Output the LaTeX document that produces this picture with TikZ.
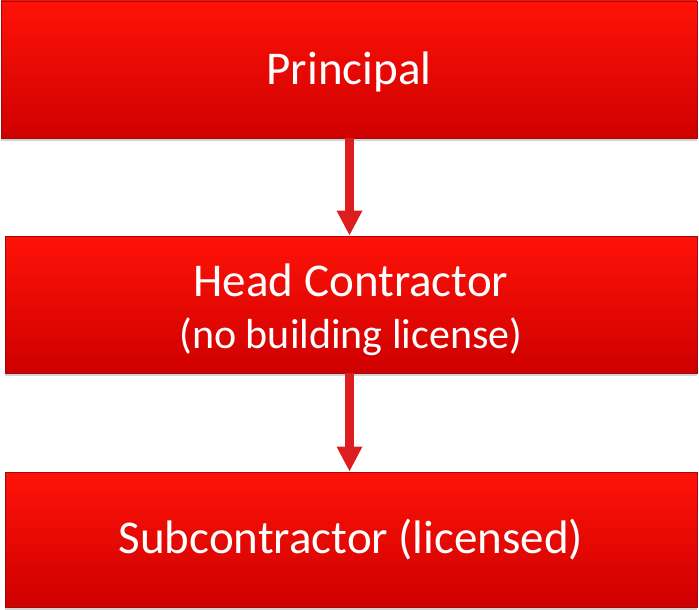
\documentclass[tikz,border=0pt]{standalone}
\usepackage{fontspec}
\setmainfont{Carlito}
\usetikzlibrary{arrows.meta,shadows}

\definecolor{boxtop}{RGB}{255,18,8}
\definecolor{boxbot}{RGB}{206,0,0}
\definecolor{boxedge}{RGB}{160,10,10}
\definecolor{arrowred}{RGB}{222,30,30}

\begin{document}
\begin{tikzpicture}[x=1pt, y=-1pt,
    tier/.style={rectangle, draw=boxedge, line width=0.8pt,
      top color=boxtop, bottom color=boxbot, text=white,
      font=\fontsize{47}{53}\selectfont, align=center, inner sep=0pt,
      drop shadow={shadow xshift=0pt, shadow yshift=-3pt, opacity=0.35}},
    link/.style={arrowred, line width=9pt,
      -{Triangle[width=24pt, length=25pt]}}]
  \useasboundingbox (0,0) rectangle (699,610);

  % three tiers of the chain
  \node[tier, minimum width=696pt, minimum height=137pt] (principal) at (349,69.5)
    {\rule{0pt}{38pt}Principal};
  \node[tier, minimum width=692pt, minimum height=137pt] (head) at (351,304.5)
    {\rule{0pt}{44pt}Head Contractor\\[-1pt]\fontsize{42}{48}\selectfont (no building license)};
  \node[tier, minimum width=692pt, minimum height=135pt] (sub) at (351,539.5)
    {Subcontractor (licensed)};

  % downward links
  \draw[link] (principal.south -| 349.5,0) -- (head.north -| 349.5,0);
  \draw[link] (head.south -| 349.5,0) -- (sub.north -| 349.5,0);
\end{tikzpicture}
\end{document}
